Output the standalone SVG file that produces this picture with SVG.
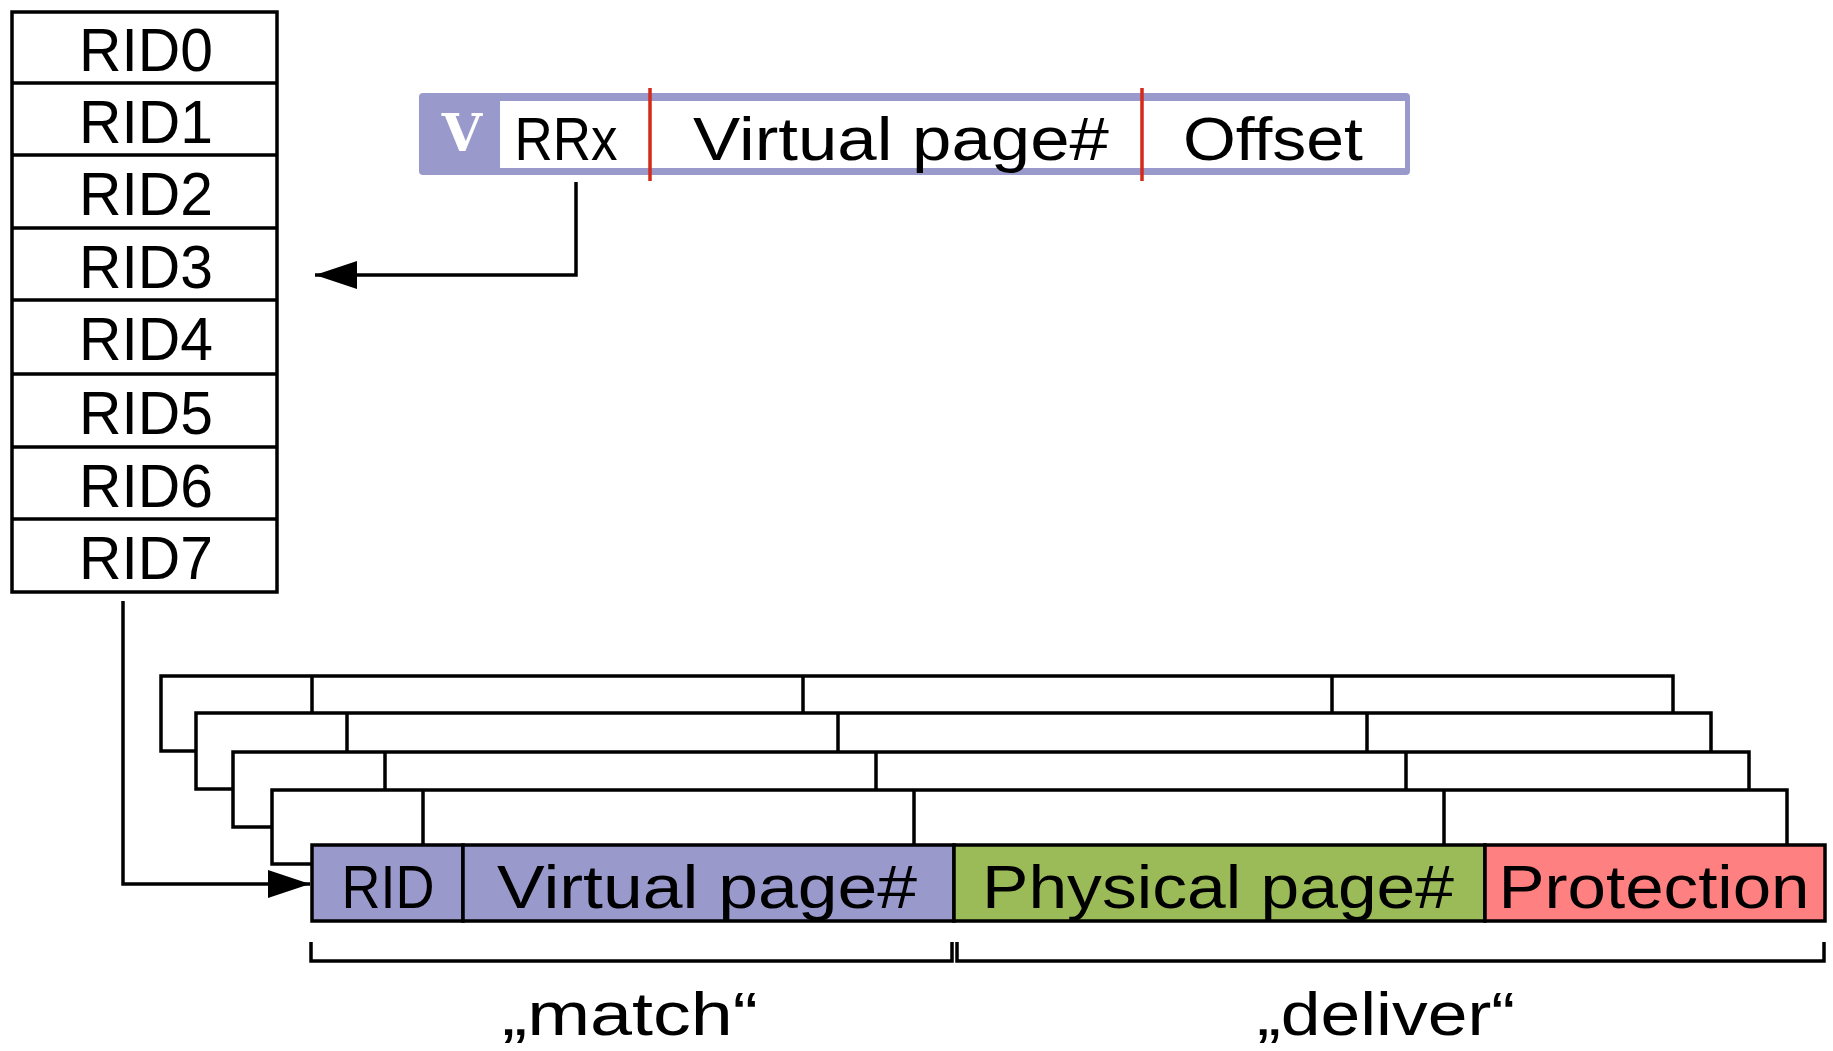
<svg xmlns="http://www.w3.org/2000/svg" width="1833" height="1051" viewBox="0 0 1833 1051">
<style>
.t{font-family:"Liberation Sans",Arial,sans-serif;font-size:62px;fill:#000;text-anchor:middle}
.ln{stroke:#000;stroke-width:3.5;fill:none}
.box{stroke:#000;stroke-width:3.5;fill:#fff}
.pur{fill:#9999CC;stroke:#000;stroke-width:3.5}
.grn{fill:#9BBB59;stroke:#000;stroke-width:3.5}
.red{fill:#FF8080;stroke:#000;stroke-width:3.5}
.rl{stroke:#D42A1A;stroke-width:3.5}
</style>
<defs>
<marker id="ah" viewBox="0 0 42 28" refX="42" refY="14" markerWidth="42" markerHeight="28" markerUnits="userSpaceOnUse" orient="auto">
<path d="M0,0 L42,14 L0,28 z" fill="#000"/>
</marker>
</defs>
<rect width="1833" height="1051" fill="#fff"/>

<g id="rid-table">
<rect class="box" x="12" y="12" width="265" height="580"/>
<path class="ln" d="M12,83H277M12,155H277M12,228H277M12,300H277M12,374H277M12,447H277M12,519H277"/>
<text class="t" x="146" y="71" textLength="134" lengthAdjust="spacingAndGlyphs">RID0</text>
<text class="t" x="146" y="143" textLength="134" lengthAdjust="spacingAndGlyphs">RID1</text>
<text class="t" x="146" y="215" textLength="134" lengthAdjust="spacingAndGlyphs">RID2</text>
<text class="t" x="146" y="288" textLength="134" lengthAdjust="spacingAndGlyphs">RID3</text>
<text class="t" x="146" y="360" textLength="134" lengthAdjust="spacingAndGlyphs">RID4</text>
<text class="t" x="146" y="434" textLength="134" lengthAdjust="spacingAndGlyphs">RID5</text>
<text class="t" x="146" y="507" textLength="134" lengthAdjust="spacingAndGlyphs">RID6</text>
<text class="t" x="146" y="579" textLength="134" lengthAdjust="spacingAndGlyphs">RID7</text>
</g>

<g id="virtual-address">
<rect x="419" y="93" width="991" height="82" rx="4" fill="#9999CC"/>
<rect x="500" y="101" width="905" height="67" fill="#fff"/>
<text x="462" y="151" font-family="'DejaVu Serif',serif" font-weight="bold" font-size="52" fill="#fff" text-anchor="middle">V</text>
<text class="t" x="566" y="160" textLength="103" lengthAdjust="spacingAndGlyphs">RRx</text>
<text class="t" x="901" y="160" textLength="416" lengthAdjust="spacingAndGlyphs">Virtual page#</text>
<text class="t" x="1273" y="160" textLength="180" lengthAdjust="spacingAndGlyphs">Offset</text>
<line class="rl" x1="650" y1="88" x2="650" y2="181"/>
<line class="rl" x1="1142" y1="88" x2="1142" y2="181"/>
</g>

<g id="tlb-entries">
<rect class="box" x="161" y="676" width="1512" height="75"/>
<path class="ln" d="M312,676V751M803,676V751M1332,676V751"/>
<rect class="box" x="196" y="713" width="1515" height="76"/>
<path class="ln" d="M347,713V789M838,713V789M1367,713V789"/>
<rect class="box" x="233" y="752" width="1516" height="75"/>
<path class="ln" d="M385,752V827M876,752V827M1406,752V827"/>
<rect class="box" x="272" y="790" width="1515" height="74"/>
<path class="ln" d="M423,790V864M914,790V864M1444,790V864"/>
</g>

<g id="tlb-front">
<rect class="pur" x="312" y="845" width="151" height="76"/>
<rect class="pur" x="463" y="845" width="491" height="76"/>
<rect class="grn" x="954" y="845" width="531" height="76"/>
<rect class="red" x="1485" y="845" width="340" height="76"/>
<text class="t" x="388" y="908" textLength="93" lengthAdjust="spacingAndGlyphs">RID</text>
<text class="t" x="707" y="908" textLength="420" lengthAdjust="spacingAndGlyphs">Virtual page#</text>
<text class="t" x="1218" y="908" textLength="472" lengthAdjust="spacingAndGlyphs">Physical page#</text>
<text class="t" x="1654" y="908" textLength="311" lengthAdjust="spacingAndGlyphs">Protection</text>
</g>

<g id="brackets">
<path class="ln" d="M311,942V961H952V942"/>
<path class="ln" d="M957,942V961H1824V942"/>
<text class="t" x="630" y="1035" textLength="256" lengthAdjust="spacingAndGlyphs">„match“</text>
<text class="t" x="1386" y="1035" font-size="66" textLength="258" lengthAdjust="spacingAndGlyphs">„deliver“</text>
</g>

<g id="connectors">
<path class="ln" d="M576,182V275H315" marker-end="url(#ah)"/>
<path class="ln" d="M123,601V884H310" marker-end="url(#ah)"/>
</g>
</svg>
